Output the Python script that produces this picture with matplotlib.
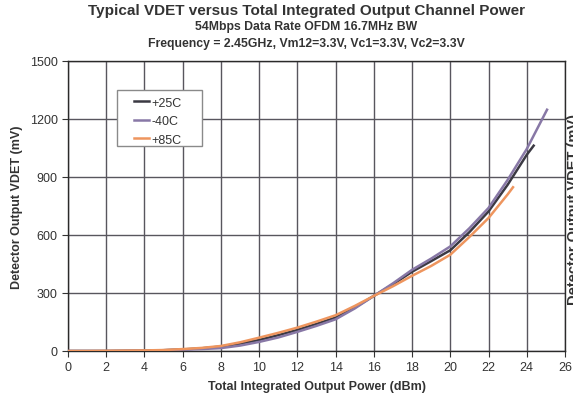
import matplotlib
matplotlib.use("Agg")
import matplotlib.pyplot as plt
from matplotlib.patches import Rectangle

plt.rcParams['font.family'] = ['Liberation Sans', 'DejaVu Sans']

# -40C
x_m40 = [0, 1, 2, 3, 4, 5, 6, 7, 8, 9, 10, 11, 12, 13, 14, 15, 16, 17, 18, 19, 20, 21, 22, 23, 24, 25.06]
y_m40 = [0, 0, 0, 1, 2, 4, 7, 10, 15, 28, 47, 70, 99, 130, 164, 220, 285, 350, 420, 478, 541, 635, 740, 885, 1045, 1248]
# +25C
x_25 = [0, 1, 2, 3, 4, 5, 6, 7, 8, 9, 10, 11, 12, 13, 14, 15, 16, 17, 18, 19, 20, 21, 22, 23, 24, 24.36]
y_25 = [0, 0, 0, 1, 2, 4, 8, 14, 23, 38, 57, 82, 109, 140, 173, 225, 285, 345, 410, 465, 521, 615, 722, 860, 1015, 1062]
# +85C
x_85 = [0, 1, 2, 3, 4, 5, 6, 7, 8, 9, 10, 11, 12, 13, 14, 15, 16, 17, 18, 19, 20, 21, 22, 23, 23.28]
y_85 = [0, 0, 1, 2, 3, 5, 10, 16, 26, 45, 69, 94, 121, 152, 185, 233, 285, 335, 389, 440, 498, 590, 688, 810, 847]

xticks = list(range(0, 27, 2))
yticks = [0, 300, 600, 900, 1200, 1500]

txt = '#333333'

fig = plt.figure(figsize=(5.73, 4.02), dpi=100)
ax = fig.add_axes([68/573, 1-352/402, 497/573, 290/402])

ax.plot(x_25, y_25, color='#3b3943', lw=1.8, label='+25C', zorder=3)
ax.plot(x_m40, y_m40, color='#8878a6', lw=1.8, label='-40C', zorder=3)
ax.plot(x_85, y_85, color='#ee955e', lw=1.8, label='+85C', zorder=4)

ax.set_xlim(0, 26)
ax.set_ylim(0, 1500)
ax.set_xticks(xticks)
ax.set_yticks(yticks)
ax.grid(True, color='#58565e', lw=1)
ax.tick_params(colors=txt, labelsize=9, length=4, direction='out')
for s in ax.spines.values():
    s.set_color('#2a2a2a')
    s.set_linewidth(1)

ax.set_xlabel('Total Integrated Output Power (dBm)', fontsize=9, fontweight='bold', color=txt, labelpad=5)
ax.set_ylabel('Detector Output VDET (mV)', fontsize=9, fontweight='bold', color=txt, labelpad=5)

# legend box drawn separately (wide side padding, tight vertical padding)
ax.add_patch(Rectangle((0.0986, 0.707), 0.171, 0.193, transform=ax.transAxes,
                       facecolor='white', edgecolor='#8a8a8a', lw=1, zorder=5))
leg = ax.legend(loc='upper left', bbox_to_anchor=(0.132, 0.877), fontsize=9, frameon=False,
                handlelength=1.25, handletextpad=0.2, labelspacing=0.52, borderpad=0,
                borderaxespad=0)
leg.set_zorder(6)
for t in leg.get_texts():
    t.set_color(txt)

fig.text(306/573, 1-11/402, 'Typical VDET versus Total Integrated Output Channel Power',
         ha='center', va='center', fontsize=11, fontweight='bold', color=txt)
fig.text(306/573, 1-27/402, '54Mbps Data Rate OFDM 16.7MHz BW',
         ha='center', va='center', fontsize=8.8, fontweight='bold', color=txt)
fig.text(306/573, 1-44/402, 'Frequency = 2.45GHz, Vm12=3.3V, Vc1=3.3V, Vc2=3.3V',
         ha='center', va='center', fontsize=8.8, fontweight='bold', color=txt)

# clipped secondary label on the right edge
fig.text(567/573, 1-210/402, 'Detector Output VDET (mV)', rotation=90,
         ha='left', va='center', fontsize=10.5, fontweight='bold', color=txt)

fig.savefig('out.png', dpi=100)
